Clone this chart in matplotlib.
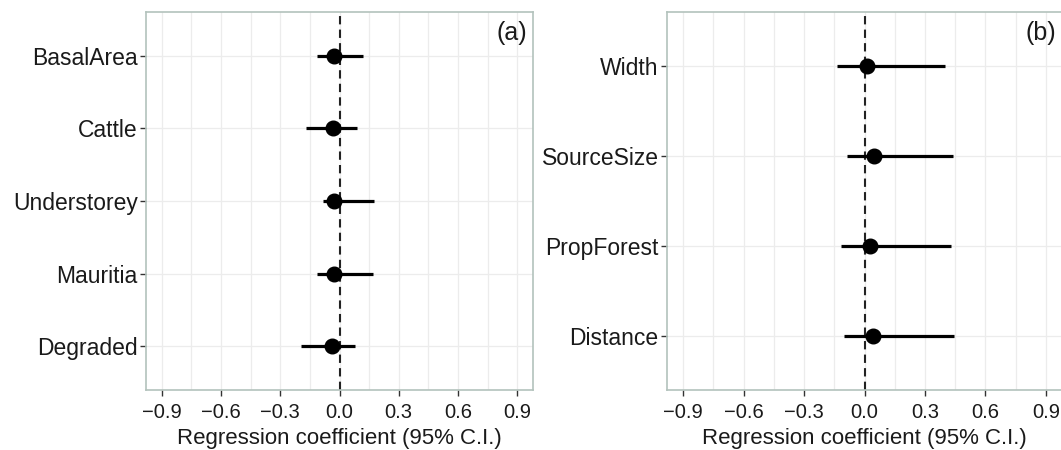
import matplotlib
matplotlib.use("Agg")
import matplotlib.pyplot as plt
import numpy as np

# panel (a)
vars_a = ["BasalArea", "Cattle", "Understorey", "Mauritia", "Degraded"]
est_a = [-0.028, -0.035, -0.026, -0.026, -0.036]
lo_a = [-0.115, -0.170, -0.085, -0.112, -0.195]
hi_a = [0.120, 0.090, 0.175, 0.168, 0.080]

# panel (b)
vars_b = ["Width", "SourceSize", "PropForest", "Distance"]
est_b = [0.013, 0.047, 0.028, 0.042]
lo_b = [-0.135, -0.087, -0.117, -0.102]
hi_b = [0.397, 0.437, 0.430, 0.443]

xticks = [-0.9, -0.6, -0.3, 0.0, 0.3, 0.6, 0.9]
xlabel = "Regression coefficient (95% C.I.)"

plt.rcParams["font.family"] = ["Liberation Sans", "DejaVu Sans"]

fig = plt.figure(figsize=(10.61, 4.5), dpi=100)
W, H = 1061, 450
ax_a = fig.add_axes([146 / W, 60 / H, 387 / W, 378 / H])
ax_b = fig.add_axes([667 / W, 60 / H, 395 / W, 378 / H])

border = "#b3c2bc"
grid = "#ececec"


def panel(ax, names, est, lo, hi, tag):
    n = len(names)
    y = np.arange(n)[::-1] + 1
    ax.set_xlim(-0.98, 0.98)
    ax.set_ylim(0.4, n + 0.6)
    ax.set_xticks(xticks)
    ax.set_xticks(np.arange(-0.75, 0.9, 0.3), minor=True)
    ax.set_xticklabels([f"{t:.1f}".replace("-", "\u2212") for t in xticks], fontsize=14.5)
    ax.set_yticks(y)
    ax.set_yticklabels(names, fontsize=16.5)
    ax.grid(True, which="both", color=grid, lw=0.9)
    ax.set_axisbelow(True)
    for s in ax.spines.values():
        s.set_color(border)
        s.set_linewidth(1.2)
    ax.tick_params(axis="both", length=4, width=1, color="#333333", labelcolor="#1a1a1a", pad=2)
    ax.tick_params(axis="x", pad=5)
    ax.tick_params(axis="x", which="minor", length=0)
    ax.axvline(0, color="#222222", ls=(0, (4, 2.5)), lw=1.5, zorder=2)
    ax.hlines(y, lo, hi, color="black", lw=2.3, zorder=3)
    ax.plot(est, y, "o", color="black", ms=10.5, zorder=4)
    ax.set_xlabel(xlabel, fontsize=16, labelpad=5, color="#1a1a1a")
    ax.text(0.985, 0.975, tag, transform=ax.transAxes, ha="right", va="top",
            fontsize=18, color="#1a1a1a")


panel(ax_a, vars_a, est_a, lo_a, hi_a, "(a)")
panel(ax_b, vars_b, est_b, lo_b, hi_b, "(b)")

fig.savefig("out.png", dpi=100)
